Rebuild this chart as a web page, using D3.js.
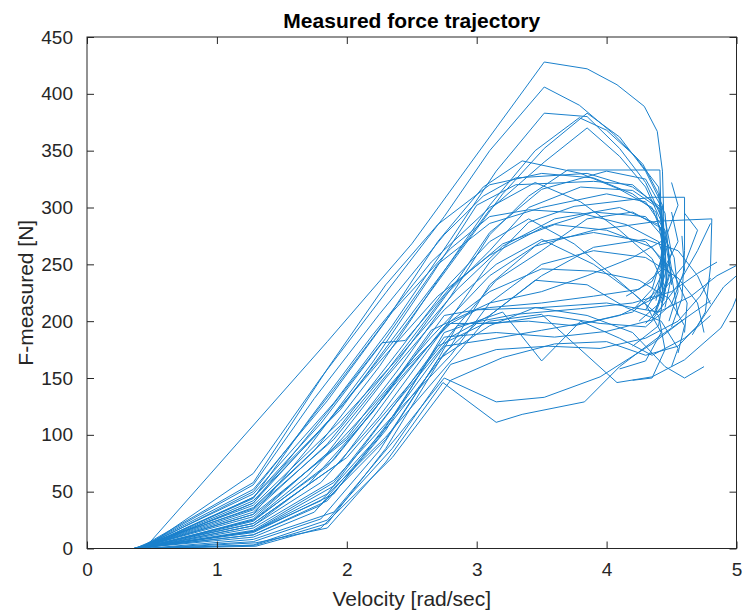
<!DOCTYPE html>
<html>
<head>
<meta charset="utf-8">
<script src="https://cdn.jsdelivr.net/npm/d3@7"></script>
<style>
  html, body { margin: 0; padding: 0; background: #fff; }
  svg text { font-family: "Liberation Sans", Arial, Helvetica, sans-serif; fill: #262626; }
</style>
</head>
<body>
<svg id="chart" width="743" height="611"></svg>
<script>
// ---- data: each trial is a list of [velocity (rad/sec), force (N)] ----
const xTicks = [0, 1, 2, 3, 4, 5];
const yTicks = [0, 50, 100, 150, 200, 250, 300, 350, 400, 450];

const trialsHigh = [
  [[0,0],[0.38,0],[0.45,1],[1.85,182],[2.5,268],[3.15,370],[3.52,428],[3.85,422],[4.08,408],[4.29,389],[4.39,367],[4.43,332],[4.44,292],[4.42,255],[4.35,228],[4.22,212]],
  [[0,0],[0.37,0],[0.46,2],[1.28,66],[1.8,150],[2.3,225],[2.75,292],[3.1,350],[3.52,406],[3.79,390],[4.05,365],[4.28,338],[4.4,312],[4.43,275],[4.42,240],[4.33,218]],
  [[0,0],[0.36,0],[0.45,3],[1.28,48],[1.9,128],[2.35,196],[2.8,272],[3.15,332],[3.52,383],[3.85,380],[4.1,352],[4.3,322],[4.42,292],[4.45,258],[4.43,228]],
  [[0,0],[0.4,0],[0.47,2],[1.28,40],[1.95,124],[2.4,188],[2.85,258],[3.2,312],[3.52,352],[3.85,383],[4.1,362],[4.3,332],[4.43,302],[4.45,262],[4.46,232],[4.38,208]],
  [[0,0],[0.37,0],[0.45,4],[1.28,35],[1.75,86],[2.25,160],[2.7,236],[3.1,302],[3.45,350],[3.79,379],[4.0,368],[4.22,345],[4.4,318],[4.44,280],[4.41,245]],
  [[0,0],[0.38,0],[0.45,3],[1.28,52],[1.85,130],[2.3,200],[2.7,270],[3.05,318],[3.35,341],[3.8,330],[4.1,316],[4.35,300],[4.45,270],[4.5,240],[4.45,212]],
  [[0,0],[0.36,0],[0.45,2],[1.28,28],[2.0,98],[2.4,158],[2.8,222],[3.1,276],[3.4,310],[3.7,333],[4.41,333],[4.42,290],[4.43,250],[4.38,218]],
  [[0,0],[0.38,0],[0.46,1],[1.28,20],[1.8,58],[2.25,116],[2.7,186],[3.1,252],[3.4,287],[3.75,301],[4.35,309],[4.6,309],[4.6,262],[4.58,220],[4.5,195]],
  [[0,0],[0.4,0],[0.45,1],[1.28,15],[1.9,55],[2.35,112],[2.8,178],[3.1,232],[3.45,266],[3.9,280],[4.4,288],[4.81,290],[4.8,248],[4.76,208],[4.66,188]],
  [[0,0],[0.37,0],[0.45,2],[1.28,30],[1.7,88],[2.2,164],[2.65,240],[3.0,302],[3.3,320],[3.9,323],[4.2,320],[4.4,300],[4.47,266],[4.5,232]],
  [[0,0],[0.38,0],[0.45,2],[1.28,45],[1.95,122],[2.35,184],[2.8,252],[3.1,298],[3.52,340],[3.85,370],[4.1,345],[4.3,318],[4.42,288],[4.44,250],[4.4,222]],
  [[0,0],[0.36,0],[0.44,3],[1.28,58],[1.85,158],[2.3,232],[2.7,285],[3.1,320],[3.5,330],[3.9,326],[4.2,312],[4.38,296],[4.44,262],[4.43,226],[4.36,205]],
  [[0,0],[0.38,0],[0.45,3],[1.28,56],[1.75,132],[2.25,206],[2.75,276],[3.05,310],[3.3,326],[3.85,330],[4.2,318],[4.42,300],[4.44,268],[4.42,232],[4.3,210]],
  [[0,0],[0.36,0],[0.45,2],[1.28,34],[1.9,96],[2.4,166],[2.85,236],[3.1,278],[3.5,316],[4.0,332],[4.3,325],[4.45,295],[4.48,255],[4.44,218]]
];

const trialsMid = [
  [[0,0],[0.38,0],[0.45,1],[1.28,45],[1.8,110],[2.3,185],[2.7,250],[3.1,286],[3.5,300],[4.0,312],[4.3,305],[4.45,280],[4.5,246],[4.42,216]],
  [[0,0],[0.37,0],[0.45,3],[1.28,38],[1.95,112],[2.4,168],[2.85,228],[3.2,266],[3.6,290],[4.1,300],[4.4,285],[4.52,256],[4.55,226],[4.48,200]],
  [[0,0],[0.39,0],[0.46,2],[1.28,25],[1.7,64],[2.2,126],[2.65,186],[3.1,240],[3.5,270],[3.9,278],[4.3,270],[4.5,246],[4.62,216],[4.6,190]],
  [[0,0],[0.4,0],[0.45,1],[1.28,18],[1.9,60],[2.35,116],[2.8,170],[3.1,216],[3.5,250],[3.9,262],[4.3,256],[4.55,238],[4.7,216],[4.75,190]],
  [[0,0],[0.36,0],[0.45,2],[1.28,32],[1.85,92],[2.3,155],[2.75,222],[3.1,262],[3.4,300],[3.8,318],[4.2,315],[4.42,298],[4.45,260],[4.35,235],[4.15,222]],
  [[0,0],[0.38,0],[0.45,1],[1.28,22],[2.0,80],[2.45,140],[2.85,196],[3.15,236],[3.5,262],[3.85,290],[4.2,296],[4.42,282],[4.44,245],[4.4,215],[4.25,200]],
  [[0,0],[0.37,0],[0.46,2],[1.28,42],[1.75,98],[2.25,164],[2.7,222],[3.1,258],[3.5,282],[3.9,296],[4.3,292],[4.45,272],[4.46,236],[4.38,210]],
  [[0,0],[0.38,0],[0.45,1],[1.28,40],[1.85,120],[2.27,181],[2.45,183],[2.8,230],[3.2,268],[3.6,285],[4.0,280],[4.35,265],[4.5,240],[4.55,205]],
  [[0,0],[0.4,0],[0.45,2],[1.28,50],[1.9,140],[2.35,208],[2.8,264],[3.1,292],[3.4,298],[3.8,295],[4.15,285],[4.4,270],[4.48,242],[4.42,212],[4.3,198]],
  [[0,0],[0.37,0],[0.45,1],[1.28,15],[1.8,42],[2.3,98],[2.75,158],[3.1,205],[3.5,240],[3.9,265],[4.3,272],[4.55,262],[4.7,240],[4.8,215]],
  [[0,0],[0.38,0],[0.45,2],[1.28,36],[1.95,108],[2.4,174],[2.8,234],[3.1,270],[3.4,290],[3.75,268],[4.05,240],[4.3,215],[4.42,190],[4.3,165],[4.1,158]],
  [[0,0],[0.37,0],[0.46,1],[1.28,26],[1.85,84],[2.3,150],[2.75,210],[3.15,250],[3.5,272],[3.9,250],[4.2,225],[4.4,205],[4.45,175],[4.35,150],[4.2,148]],
  [[0,0],[0.37,0],[0.45,2],[1.28,44],[1.7,112],[2.2,188],[2.65,252],[3.1,300],[3.45,322],[3.8,305],[4.1,280],[4.35,255],[4.45,230],[4.4,196],[4.2,178]],
  [[0,0],[0.38,0],[0.45,1],[1.28,24],[1.9,78],[2.35,142],[2.8,200],[3.1,226],[3.5,246],[3.9,244],[4.25,236],[4.48,220],[4.6,196],[4.55,172]]
];

const trialsLow = [
  [[0,0],[0.38,0],[0.45,1],[1.28,12],[1.8,38],[2.3,96],[2.7,166],[2.85,196],[3.3,206],[3.8,211],[4.2,216],[4.5,226],[4.7,242],[4.85,252]],
  [[0,0],[0.4,0],[0.47,0],[1.3,5],[1.85,18],[2.3,76],[2.74,146],[3.15,111],[3.35,118],[3.83,129],[4.1,160],[4.4,186],[4.6,202],[4.8,218]],
  [[0,0],[0.38,0],[0.45,0],[1.28,8],[1.9,32],[2.4,100],[2.75,150],[3.15,129],[3.52,133],[3.95,151],[4.35,180],[4.6,202]],
  [[0,0],[0.36,0],[0.45,1],[1.28,10],[1.75,32],[2.25,98],[2.7,178],[3.1,200],[3.5,206],[4.08,146],[4.35,151],[4.6,166],[4.75,181],[4.88,194],[4.97,212],[5.05,235]],
  [[0,0],[0.37,0],[0.45,2],[1.28,22],[1.95,76],[2.4,146],[2.75,195],[3.0,210],[3.5,212],[4.0,216],[4.4,208],[4.65,222],[4.85,240],[5.05,252]],
  [[0,0],[0.38,0],[0.45,1],[1.28,15],[1.85,48],[2.3,116],[2.75,186],[3.15,190],[3.6,186],[4.0,191],[4.35,201],[4.55,232],[4.7,262],[4.8,286]],
  [[0,0],[0.39,0],[0.46,1],[1.28,20],[1.7,56],[2.2,120],[2.65,192],[3.1,216],[3.5,226],[3.85,240],[4.2,256],[4.45,272],[4.55,302],[4.5,322]],
  [[0,0],[0.36,0],[0.45,0],[1.28,3],[1.85,25],[2.35,88],[2.8,162],[3.15,175],[3.55,178],[3.95,176],[4.3,185],[4.55,200],[4.72,222],[4.8,238]],
  [[0,0],[0.38,0],[0.45,1],[1.28,14],[1.9,48],[2.3,108],[2.75,178],[3.1,184],[3.5,192],[3.9,200],[4.2,208],[4.42,230],[4.5,260],[4.45,290]],
  [[0,0],[0.37,0],[0.45,0],[1.3,2],[1.8,18],[2.35,80],[2.8,148],[3.2,168],[3.6,180],[4.0,182],[4.3,170],[4.55,178],[4.7,196],[4.9,230],[5.05,245]],
  [[0,0],[0.39,0],[0.45,1],[1.28,25],[1.85,72],[2.3,135],[2.75,205],[3.1,212],[3.5,216],[3.9,222],[4.25,228],[4.45,248],[4.55,270],[4.5,296]],
  [[0,0],[0.36,0],[0.45,2],[1.28,30],[2.0,96],[2.45,158],[2.8,198],[3.15,198],[3.55,205],[3.95,198],[4.3,195],[4.5,215],[4.6,245],[4.58,275]],
  [[0,0],[0.39,0],[0.45,1],[1.28,12],[1.85,42],[2.3,104],[2.75,190],[3.2,208],[3.5,165],[3.8,200],[4.1,185],[4.35,170],[4.6,185],[4.8,205]],
  [[0,0],[0.38,0],[0.45,0],[1.28,6],[1.8,26],[2.25,86],[2.7,166],[3.1,196],[3.45,212],[3.85,205],[4.2,190],[4.45,160],[4.6,150],[4.75,160]],
  [[0,0],[0.37,0],[0.45,1],[1.28,16],[1.9,58],[2.35,124],[2.8,186],[3.1,205],[3.45,236],[3.85,232],[4.15,212],[4.42,200],[4.55,176],[4.5,160]],
  [[0,0],[0.4,0],[0.46,0],[1.3,3],[1.85,22],[2.3,88],[2.75,172],[3.0,198],[3.4,200],[3.75,196],[4.1,205],[4.4,222],[4.6,250],[4.7,280],[4.6,295]]
];

// ---- layout ----
const svg = d3.select("#chart");
const plot = { left: 87, right: 736.5, top: 37, bottom: 548.5 };
const x = d3.scaleLinear().domain([0, 5]).range([plot.left, plot.right]);
const y = d3.scaleLinear().domain([0, 450]).range([plot.bottom, plot.top]);
const axisColor = "#262626";
const lineColor = "#1a80cc";

svg.append("defs").append("clipPath").attr("id", "clip")
  .append("rect")
  .attr("x", plot.left).attr("y", plot.top)
  .attr("width", plot.right - plot.left).attr("height", plot.bottom - plot.top);

const line = d3.line().x(d => x(d[0])).y(d => y(d[1]));
const allTrials = [...trialsHigh, ...trialsMid, ...trialsLow];

svg.append("g").attr("clip-path", "url(#clip)")
  .selectAll("path").data(allTrials).join("path")
  .attr("d", line)
  .attr("fill", "none")
  .attr("stroke", lineColor)
  .attr("stroke-width", 1)
  .attr("stroke-linejoin", "round");

// ---- axes (MATLAB style: box, inward ticks on all sides) ----
const tickLen = 7;
function styleAxis(g) {
  g.select(".domain").remove();
  g.selectAll(".tick line").attr("stroke", axisColor);
  g.selectAll(".tick text").attr("fill", axisColor).style("font-size", "19px");
}
svg.append("g").attr("transform", `translate(0,${plot.bottom})`)
  .call(d3.axisBottom(x).tickValues(xTicks).tickFormat(d3.format("d")).tickSizeInner(-tickLen).tickSizeOuter(0).tickPadding(14))
  .call(styleAxis);
svg.append("g").attr("transform", `translate(0,${plot.top})`)
  .call(d3.axisTop(x).tickValues(xTicks).tickFormat("").tickSizeInner(-tickLen).tickSizeOuter(0))
  .call(styleAxis);
svg.append("g").attr("transform", `translate(${plot.left},0)`)
  .call(d3.axisLeft(y).tickValues(yTicks).tickFormat(d3.format("d")).tickSizeInner(-tickLen).tickSizeOuter(0).tickPadding(14))
  .call(styleAxis);
svg.append("g").attr("transform", `translate(${plot.right},0)`)
  .call(d3.axisRight(y).tickValues(yTicks).tickFormat("").tickSizeInner(-tickLen).tickSizeOuter(0))
  .call(styleAxis);

svg.append("rect")
  .attr("x", plot.left).attr("y", plot.top)
  .attr("width", plot.right - plot.left).attr("height", plot.bottom - plot.top)
  .attr("fill", "none").attr("stroke", axisColor).attr("stroke-width", 1);

// ---- labels ----
svg.append("text").attr("x", (plot.left + plot.right) / 2).attr("y", 28)
  .attr("text-anchor", "middle").style("font-size", "21px").style("font-weight", "bold")
  .style("fill", "#000")
  .text("Measured force trajectory");
svg.append("text").attr("x", (plot.left + plot.right) / 2).attr("y", 606)
  .attr("text-anchor", "middle").style("font-size", "21px")
  .text("Velocity [rad/sec]");
svg.append("text").attr("transform", `translate(33,${(plot.top + plot.bottom) / 2}) rotate(-90)`)
  .attr("text-anchor", "middle").style("font-size", "21px")
  .text("F-measured [N]");
</script>
</body>
</html>
